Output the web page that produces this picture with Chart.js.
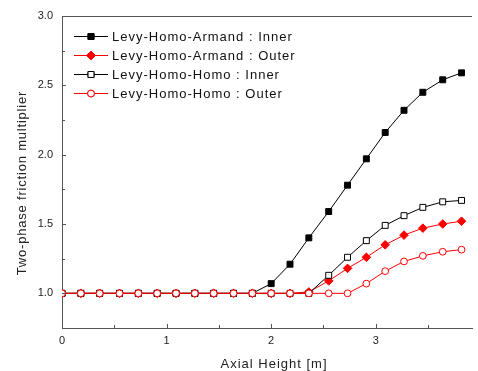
<!DOCTYPE html>
<html>
<head>
<meta charset="utf-8">
<script src="https://cdn.jsdelivr.net/npm/chart.js@4/dist/chart.umd.min.js"></script>
<style>
  html, body { margin: 0; padding: 0; background: #fff; overflow: hidden; }
  #frictionChart { display: block; }
</style>
</head>
<body>
<canvas id="frictionChart" width="478" height="371"></canvas>
<script>
// axial positions [m]
const heights = [0, 0.18, 0.36, 0.55, 0.73, 0.91, 1.09, 1.27, 1.45, 1.64, 1.82,
                 2.0, 2.18, 2.36, 2.55, 2.73, 2.91, 3.09, 3.27, 3.45, 3.64, 3.82];

const armandInner = [1, 1, 1, 1, 1, 1, 1, 1, 1, 1, 1,
                     1.07, 1.21, 1.40, 1.59, 1.78, 1.97, 2.16, 2.32, 2.45, 2.54, 2.59];
const armandOuter = [1, 1, 1, 1, 1, 1, 1, 1, 1, 1, 1,
                     1, 1, 1.01, 1.09, 1.18, 1.26, 1.35, 1.42, 1.47, 1.50, 1.52];
const homoInner   = [1, 1, 1, 1, 1, 1, 1, 1, 1, 1, 1,
                     1, 1, 1, 1.13, 1.26, 1.38, 1.49, 1.56, 1.62, 1.66, 1.67];
const homoOuter   = [1, 1, 1, 1, 1, 1, 1, 1, 1, 1, 1,
                     1, 1, 1, 1, 1, 1.07, 1.16, 1.23, 1.27, 1.30, 1.315];

const seriesNames = ['Levy-Homo-Armand : Inner', 'Levy-Homo-Armand : Outer',
                     'Levy-Homo-Homo : Inner', 'Levy-Homo-Homo : Outer'];

const yTicksShown = [1.0, 1.5, 2.0, 2.5, 3.0];
const xTicksShown = [0, 1, 2, 3];

const AXIS_COLOR = '#555';
const RED = '#ff0000';

function toPoints(values) {
    return values.map((v, i) => ({ x: heights[i], y: v }));
}

const styles = [
    { color: '#000', style: 'rect',    radius: 4.2, fill: '#000' },
    { color: RED,    style: 'rectRot', radius: 4.3, fill: RED },
    { color: '#000', style: 'rect',    radius: 4.2, fill: '#fff' },
    { color: RED,    style: 'circle',  radius: 3.4, fill: '#fff' }
];

const allValues = [armandInner, armandOuter, homoInner, homoOuter];

const datasets = allValues.map((vals, k) => ({
    label: seriesNames[k],
    data: toPoints(vals),
    borderColor: styles[k].color,
    borderWidth: 1,
    pointStyle: styles[k].style,
    pointRadius: styles[k].radius,
    pointBackgroundColor: styles[k].fill,
    pointBorderColor: styles[k].color,
    pointBorderWidth: 1,
    tension: 0,
    order: 4 - k
}));

// frame, inward ticks, axis titles and legend
const decorations = {
    id: 'decorations',
    afterDraw(chart) {
        const ctx = chart.ctx;
        const area = chart.chartArea;
        const xs = chart.scales.x;
        const ys = chart.scales.y;
        ctx.save();
        ctx.strokeStyle = AXIS_COLOR;
        ctx.lineWidth = 1;

        // top frame line
        ctx.beginPath();
        ctx.moveTo(area.left, area.top + 0.5);
        ctx.lineTo(area.right, area.top + 0.5);
        ctx.stroke();

        // inward ticks on x
        for (let v = 0; v <= 3.5; v += 0.5) {
            const px = Math.round(xs.getPixelForValue(v)) + 0.5;
            const len = Number.isInteger(v) ? 4 : 3;
            ctx.beginPath();
            ctx.moveTo(px, area.bottom);
            ctx.lineTo(px, area.bottom - len);
            ctx.stroke();
        }
        // inward ticks on y
        for (let v = 1.0; v <= 2.75; v += 0.25) {
            const py = Math.round(ys.getPixelForValue(v)) + 0.5;
            const len = Number.isInteger(v * 2) ? 4 : 3;
            ctx.beginPath();
            ctx.moveTo(area.left, py);
            ctx.lineTo(area.left + len, py);
            ctx.stroke();
        }

        // axis titles
        ctx.fillStyle = '#222';
        ctx.font = '13px "Liberation Sans", Arial, sans-serif';
        ctx.letterSpacing = '1px';
        ctx.textAlign = 'center';
        ctx.textBaseline = 'middle';
        ctx.fillText('Axial Height [m]', 274, 364);
        ctx.save();
        ctx.letterSpacing = '0.8px';
        ctx.translate(22, 183);
        ctx.rotate(-Math.PI / 2);
        ctx.fillText('Two-phase friction multiplier', 0, 0);
        ctx.restore();

        // legend
        ctx.textAlign = 'left';
        ctx.letterSpacing = '1px';
        ctx.font = '13px "Liberation Sans", Arial, sans-serif';
        const rowY = [36, 55, 74, 93];
        seriesNames.forEach((name, k) => {
            const st = styles[k];
            const y = rowY[k];
            ctx.strokeStyle = st.color;
            ctx.beginPath();
            ctx.moveTo(74, y + 0.5);
            ctx.lineTo(108, y + 0.5);
            ctx.stroke();
            Chart.helpers.drawPoint(ctx, {
                pointStyle: st.style,
                radius: st.radius,
                rotation: 0,
                borderWidth: 1
            }, 91, y + 0.5);
            ctx.fillStyle = st.fill;
            ctx.strokeStyle = st.color;
            ctx.fill();
            ctx.stroke();
            ctx.fillStyle = '#111';
            ctx.fillText(name, 112, y + 1);
        });
        ctx.restore();
    }
};

new Chart(document.getElementById('frictionChart').getContext('2d'), {
    type: 'line',
    data: { datasets: datasets },
    options: {
        responsive: false,
        animation: false,
        layout: { padding: { left: 0, top: 16, right: 0, bottom: 0 } },
        plugins: {
            legend: { display: false },
            tooltip: { enabled: false }
        },
        scales: {
            x: {
                type: 'linear',
                min: 0,
                max: 3.92,
                afterFit: (scale) => { scale.height = 43; },
                grid: { drawOnChartArea: false, drawTicks: false },
                border: { display: true, color: AXIS_COLOR, width: 1 },
                ticks: {
                    stepSize: 0.5,
                    padding: 6,
                    maxRotation: 0,
                    autoSkip: false,
                    color: '#222',
                    font: { size: 11, family: '"Liberation Sans", Arial, sans-serif' },
                    callback: (v) => xTicksShown.includes(v) ? String(v) : ''
                }
            },
            y: {
                min: 0.75,
                max: 3.0,
                afterFit: (scale) => { scale.width = 62; },
                grid: { drawOnChartArea: false, drawTicks: false },
                border: { display: true, color: AXIS_COLOR, width: 1 },
                ticks: {
                    stepSize: 0.25,
                    padding: 9,
                    autoSkip: false,
                    color: '#222',
                    font: { size: 11, family: '"Liberation Sans", Arial, sans-serif' },
                    callback: (v) => yTicksShown.includes(v) ? v.toFixed(1) : ''
                }
            }
        }
    },
    plugins: [decorations]
});
</script>
</body>
</html>
